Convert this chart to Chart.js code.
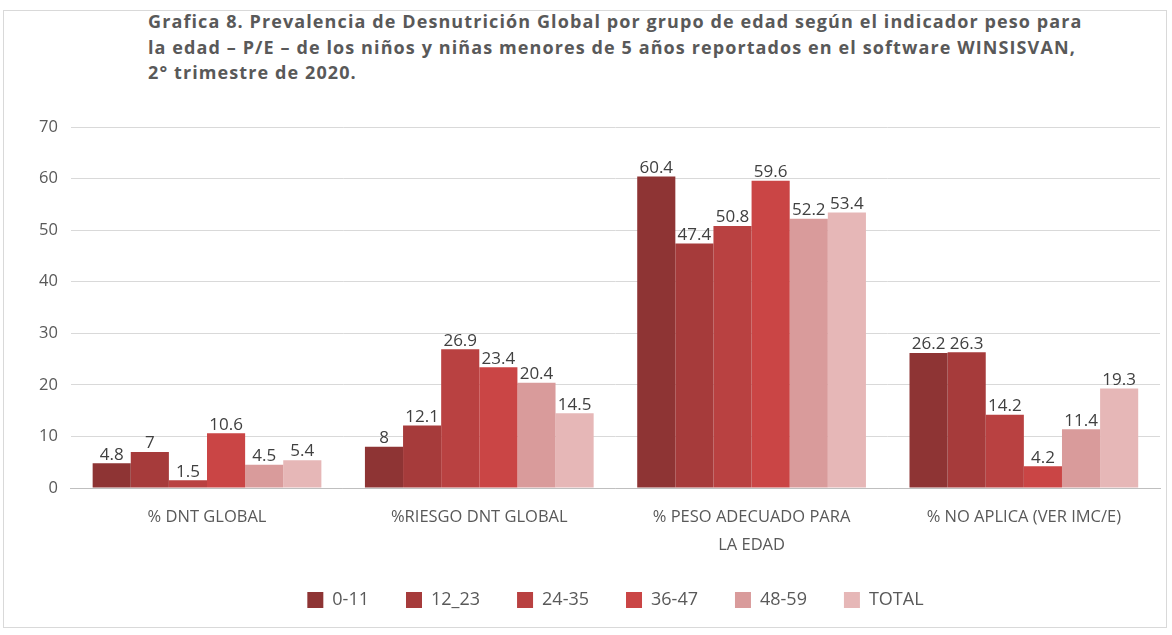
<!DOCTYPE html>
<html>
<head>
<meta charset="utf-8">
<script src="https://cdn.jsdelivr.net/npm/chart.js@4"></script>
<style>
  body { margin: 0; background: #fff; }
  #wrap { position: relative; width: 1172px; height: 635px; }
  #frame { position: absolute; left: 3px; top: 10px; width: 1164px; height: 618px; border: 1px solid #d9d9d9; box-sizing: border-box; }
  #title { position: absolute; left: 148px; top: 9px; font-family: "Open Sans", sans-serif; font-weight: bold; font-size: 18px; letter-spacing: 1.1px; line-height: 25.5px; color: #595959; white-space: nowrap; }
  canvas { position: absolute; left: 0; top: 0; }
</style>
</head>
<body>
<div id="wrap">
  <div id="frame"></div>
  <div id="title">Grafica 8. Prevalencia de Desnutrición Global por grupo de edad según el indicador peso para<br>la edad – P/E – de los niños y niñas menores de 5 años reportados en el software WINSISVAN,<br>2° trimestre de 2020.</div>
  <canvas id="chart" width="1172" height="635"></canvas>
</div>
<script>
// categories and series
const categories = [
    '% DNT GLOBAL',
    '%RIESGO DNT GLOBAL',
    ['% PESO ADECUADO PARA', 'LA EDAD'],
    '% NO APLICA (VER IMC/E)'
];
const seriesNames = ['0-11', '12_23', '24-35', '36-47', '48-59', 'TOTAL'];
const seriesColors = ['#8e3434', '#a63b3b', '#b94141', '#ca4545', '#d99b9b', '#e6b7b7'];

const age0_11  = [4.8, 8, 60.4, 26.2];
const age12_23 = [7, 12.1, 47.4, 26.3];
const age24_35 = [1.5, 26.9, 50.8, 14.2];
const age36_47 = [10.6, 23.4, 59.6, 4.2];
const age48_59 = [4.5, 20.4, 52.2, 11.4];
const total    = [5.4, 14.5, 53.4, 19.3];
const seriesValues = [age0_11, age12_23, age24_35, age36_47, age48_59, total];

const yTicks = [0, 10, 20, 30, 40, 50, 60, 70];

const font = '"Open Sans", sans-serif';

// draw value labels on top of each bar
const valueLabels = {
    id: 'valueLabels',
    afterDatasetsDraw(chart) {
        const ctx = chart.ctx;
        ctx.save();
        ctx.font = '17px ' + font;
        ctx.fillStyle = '#404040';
        ctx.textAlign = 'center';
        ctx.textBaseline = 'bottom';
        chart.data.datasets.forEach((ds, i) => {
            chart.getDatasetMeta(i).data.forEach((bar, j) => {
                ctx.fillText(String(ds.data[j]), bar.x, bar.y);
            });
        });
        ctx.restore();
    }
};

new Chart(document.getElementById('chart'), {
    type: 'bar',
    data: {
        labels: categories,
        datasets: seriesNames.map((name, i) => ({
            label: name,
            data: seriesValues[i],
            backgroundColor: seriesColors[i],
            borderWidth: 0,
            barPercentage: 1,
            categoryPercentage: 0.84
        }))
    },
    options: {
        responsive: false,
        animation: false,
        layout: { padding: { top: 127, left: 26, right: 12, bottom: 16 } },
        plugins: {
            legend: {
                position: 'bottom',
                fullSize: false,
                labels: {
                    boxWidth: 16,
                    boxHeight: 16,
                    padding: 37,
                    color: '#595959',
                    font: { family: font, size: 18 }
                }
            },
            tooltip: { enabled: false }
        },
        scales: {
            x: {
                grid: { display: false, drawTicks: false },
                border: { color: '#bfbfbf' },
                afterFit(scale) { scale.height = 66; },
                ticks: {
                    color: '#595959',
                    maxRotation: 0,
                    padding: 16,
                    font: { family: font, size: 16.5, lineHeight: 1.65 }
                }
            },
            y: {
                min: 0,
                max: 70,
                afterBuildTicks(axis) { axis.ticks = yTicks.map(v => ({ value: v })); },
                grid: { color: '#d9d9d9', drawTicks: false },
                border: { display: false },
                ticks: {
                    color: '#595959',
                    padding: 13,
                    font: { family: font, size: 16.5 }
                }
            }
        }
    },
    plugins: [valueLabels]
});
</script>
</body>
</html>
